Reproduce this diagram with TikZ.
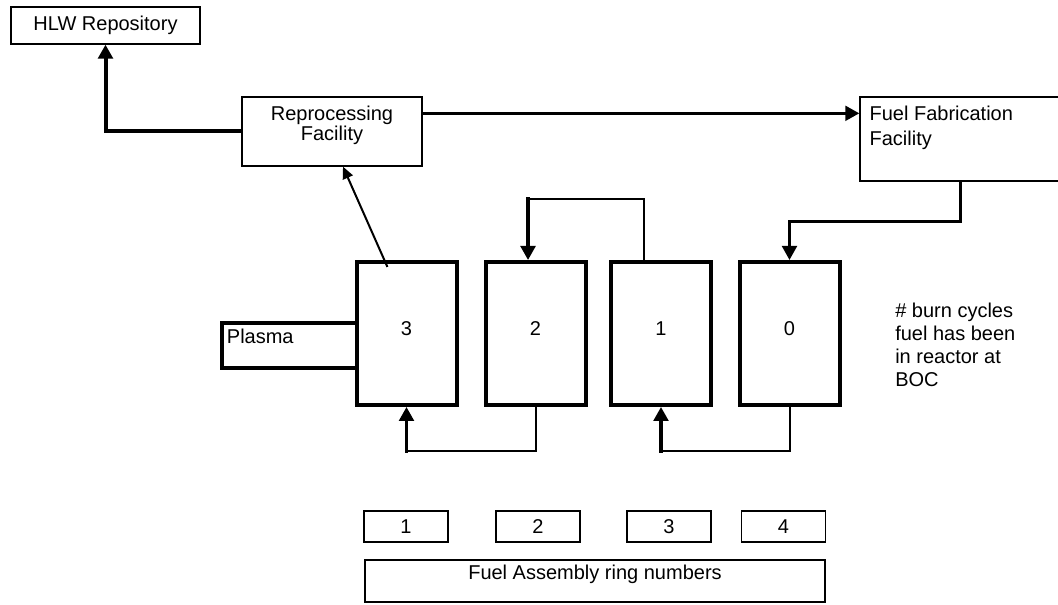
\documentclass[tikz,border=0pt]{standalone}
\usepackage{fontspec}
\setmainfont{Liberation Sans}
\usetikzlibrary{arrows.meta}

\begin{document}
\begin{tikzpicture}[x=0.75pt,y=-0.75pt,line cap=rect,line join=miter,
    >={Triangle[length=10.5pt,width=11pt]},
    every node/.style={font=\fontsize{15}{17}\selectfont},
    facility/.style={draw,line width=1pt,inner sep=0pt},
    core/.style={draw,line width=3pt,minimum width=75pt,minimum height=107.25pt,inner sep=0pt,text depth=8pt},
    ringbox/.style={draw,line width=1pt,minimum width=63pt,minimum height=23.25pt,inner sep=0pt},
    flow/.style={->,line width=2.5pt},
    feed/.style={line width=1.5pt},
    thinline/.style={line width=0.8pt}]

\useasboundingbox (0,0) rectangle (1058,605);

% facilities
\node[facility,minimum width=141.75pt,minimum height=27.75pt] (hlw) at (105.5,25.5) {HLW Repository};
\node[facility,minimum width=135pt,minimum height=51.75pt] (rep) at (332,131.5) {};
\node[anchor=north,align=center,inner sep=0pt,font=\fontsize{15}{15}\selectfont] (reptext)
    at ([yshift=-7pt]rep.north) {Reprocessing\\Facility};
\node[facility,minimum width=150pt,minimum height=63pt] (ff) at (960,139) {};
\node[anchor=north west,align=left,inner sep=0pt,font=\fontsize{15}{18.75}\selectfont] (fftext)
    at ([xshift=7.5pt,yshift=-7pt]ff.north west) {Fuel Fabrication\\Facility};

% core
\node[draw,line width=3pt,minimum width=101.25pt,minimum height=33.75pt,inner sep=0pt] (plasma) at (289.5,345.5) {};
\node[anchor=north west,inner sep=0pt] (plasmatext) at ([xshift=5pt,yshift=-5.5pt]plasma.north west) {Plasma};
\foreach \n/\x in {3/406.5,2/535.5,1/661,0/789.5}
    \node[core] (r\n) at (\x,333.5) {\n};

\node[anchor=north west,align=left,inner sep=0pt,font=\fontsize{15}{17.25}\selectfont] (note) at (895,303)
    {\# burn cycles\\fuel has been\\in reactor at\\BOC};

% ring numbers
\foreach \n/\x in {1/406,2/538,3/669,4/783.5}
    \node[ringbox] (ring\n) at (\x,526.5) {\n};
\node[facility,minimum width=345pt,minimum height=31.5pt] (rings) at (595,581) {};
\node[anchor=north,inner sep=0pt] (ringtext) at ([yshift=-4pt]rings.north) {Fuel Assembly ring numbers};

% fuel flow
\draw[flow,line width=3pt] (rep.west) -| (hlw.south);
\draw[flow,line width=2.25pt] (rep.north east) ++(0,17) coordinate (repout) -- (repout -| ff.west);
\draw[flow,line width=2.25pt] (ff.south) -- ++(0,40) -| (r0.north);
\draw[->,line width=1.5pt,>={Triangle[length=9pt,width=8pt]}] (r3.north) ++(-19.5,6) -- ([xshift=8.25pt]rep.south);

\coordinate (k2) at ([xshift=-5.6pt]r2.north);
\draw[thinline] (r1.north) ++(-17,0) -- ++(0,-61) coordinate (kink) -- (kink -| k2);
\draw[flow] (kink -| k2) -- (k2);

\draw[feed] (r2.south) -- ++(0,44) coordinate (lowa) -- (lowa -| r3.south);
\draw[flow] (lowa -| r3.south) -- (r3.south);
\draw[feed] (r0.south) -- ++(0,44) coordinate (lowb) -- (lowb -| r1.south);
\draw[flow] (lowb -| r1.south) -- (r1.south);

\end{tikzpicture}
\end{document}
